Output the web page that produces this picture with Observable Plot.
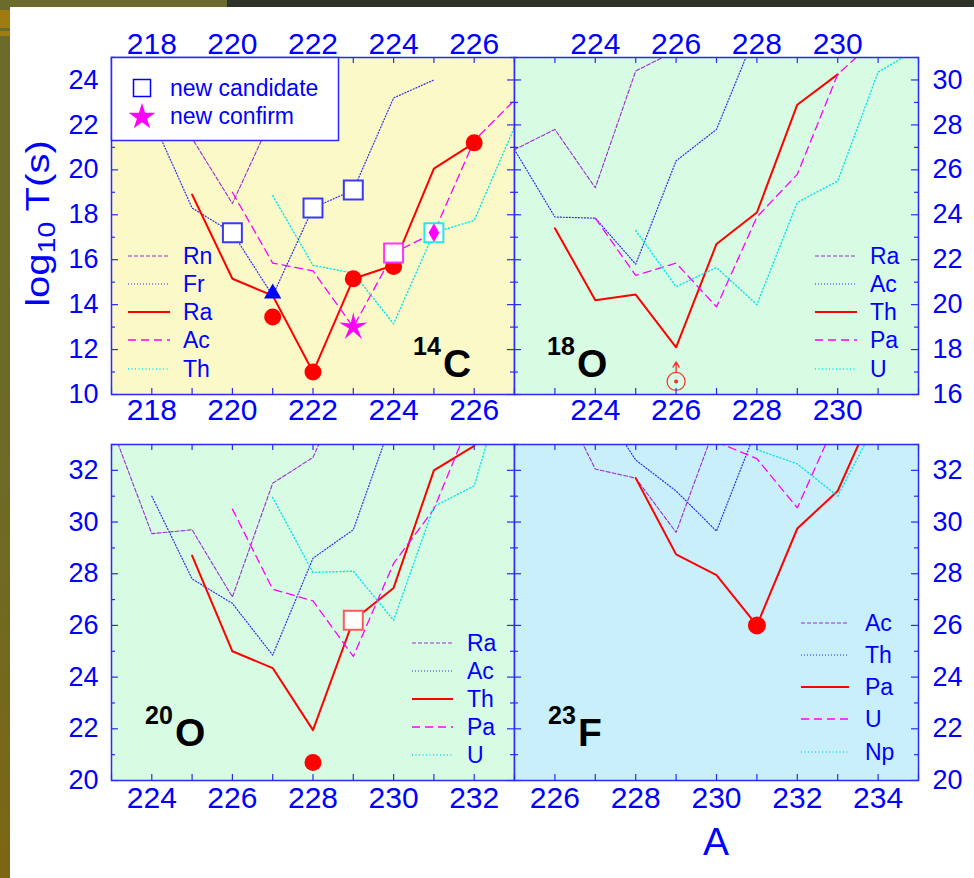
<!DOCTYPE html>
<html><head><meta charset="utf-8">
<script src="https://cdn.jsdelivr.net/npm/d3@7"></script>
<script src="https://cdn.jsdelivr.net/npm/@observablehq/plot@0.6"></script>
<style>
html,body{margin:0;padding:0;background:#fff;}
#root{position:relative;width:974px;height:878px;overflow:hidden;background:#fff;font-family:"Liberation Sans",Arial,sans-serif;}
.deco{position:absolute;}
</style></head><body><div id="root">
<div class="deco" style="left:0;top:0;width:10px;height:878px;background:linear-gradient(#6a6b2c,#6e6a26 60%,#7c6614);"></div>
<div class="deco" style="left:0;top:10px;width:10px;height:18px;background:#a07c10;"></div>
<div class="deco" style="left:0;top:31px;width:10px;height:5px;background:#a07c10;"></div>
<div class="deco" style="left:0;top:0;width:227px;height:7px;background:#6a6b2c;"></div>
<div class="deco" style="left:227px;top:0;width:747px;height:7px;background:#2f3229;"></div>
</div>
<script>
// ---------------- DATA ----------------
// Panel 1: 14C emission (x: A of parent, y: log10 T(s))
const C14_LABELS = ["Rn", "Fr", "Ra", "Ac", "Th"];
const C14_RN_A = [218, 219, 220, 221, 222];
const C14_RN_T = [24.5, 21.4, 18.5, 22.4, 26.0];
const C14_FR_A = [218, 219, 220, 221, 222, 223, 224, 225];
const C14_FR_T = [22.3, 18.3, 17.2, 14.4, 18.3, 19.1, 23.2, 24.0];
const C14_RA_A = [219, 220, 221, 222, 223, 224, 225, 226];
const C14_RA_T = [18.9, 15.15, 14.4, 11.0, 15.15, 15.75, 20.05, 21.2];
const C14_AC_A = [220, 221, 222, 223, 224, 225, 226, 227];
const C14_AC_T = [19.0, 15.85, 15.5, 13.0, 16.3, 17.2, 21.3, 23.1];
const C14_TH_A = [221, 222, 223, 224, 225, 226, 227];
const C14_TH_T = [18.85, 15.75, 15.4, 13.15, 17.2, 17.75, 21.9];
const C14_EXP_A = [221, 222, 223, 224, 226];
const C14_EXP_T = [13.45, 11.0, 15.15, 15.7, 21.2];
const C14_CAND_FR_A = [220, 222, 223];
const C14_CAND_FR_T = [17.2, 18.3, 19.1];
const C14_CAND_AC_A = [224];
const C14_CAND_AC_T = [16.3];
const C14_CAND_TH_A = [225];
const C14_CAND_TH_T = [17.2];
const C14_DIAMOND_A = [225];
const C14_DIAMOND_T = [17.2];
const C14_CONFIRM_A = [223];
const C14_CONFIRM_T = [13.0];
const C14_TRIANGLE_A = [221];
const C14_TRIANGLE_T = [14.5];
const P1_XLABELS = [218, 220, 222, 224, 226];
const P1_YLABELS = [10, 12, 14, 16, 18, 20, 22, 24];

// Panel 2: 18O
const O18_LABELS = ["Ra", "Ac", "Th", "Pa", "U"];
const O18_RA_A = [222, 223, 224, 225, 226];
const O18_RA_T = [26.9, 27.8, 25.2, 30.4, 31.3];
const O18_AC_A = [222, 223, 224, 225, 226, 227, 228];
const O18_AC_T = [26.9, 23.9, 23.85, 21.8, 26.4, 27.8, 32.2];
const O18_TH_A = [223, 224, 225, 226, 227, 228, 229, 230];
const O18_TH_T = [23.4, 20.2, 20.45, 18.1, 22.7, 24.1, 28.9, 30.25];
const O18_PA_A = [224, 225, 226, 227, 228, 229, 230, 231];
const O18_PA_T = [23.85, 21.3, 21.85, 19.9, 23.9, 25.8, 30.25, 31.9];
const O18_U_A = [225, 226, 227, 228, 229, 230, 231, 232];
const O18_U_T = [23.3, 20.8, 21.65, 20.0, 24.55, 25.5, 30.35, 31.4];
const O18_LIMIT_A = [226];
const O18_LIMIT_T = [16.58];
const O18_LIMIT_TIP = [17.45];
const P2_XLABELS = [224, 226, 228, 230];
const P2_YLABELS = [16, 18, 20, 22, 24, 26, 28, 30];

// Panel 3: 20O
const O20_LABELS = ["Ra", "Ac", "Th", "Pa", "U"];
const O20_RA_A = [223, 224, 225, 226, 227, 228, 229];
const O20_RA_T = [33.7, 29.55, 29.7, 27.1, 31.5, 32.5, 36.0];
const O20_AC_A = [224, 225, 226, 227, 228, 229, 230];
const O20_AC_T = [31.0, 27.8, 26.85, 24.85, 28.6, 29.7, 34.1];
const O20_TH_A = [225, 226, 227, 228, 229, 230, 231, 232];
const O20_TH_T = [28.7, 25.0, 24.35, 21.95, 26.2, 27.45, 32.0, 32.95];
const O20_PA_A = [226, 227, 228, 229, 230, 231, 232];
const O20_PA_T = [30.5, 27.4, 26.95, 24.8, 28.4, 30.5, 34.3];
const O20_U_A = [227, 228, 229, 230, 231, 232, 233];
const O20_U_T = [30.95, 28.05, 28.1, 26.2, 30.6, 31.4, 36.7];
const O20_EXP_A = [228];
const O20_EXP_T = [20.7];
const O20_CAND_A = [229];
const O20_CAND_T = [26.2];
const P3_XLABELS = [224, 226, 228, 230, 232];
const P3_YLABELS = [20, 22, 24, 26, 28, 30, 32];

// Panel 4: 23F
const F23_LABELS = ["Ac", "Th", "Pa", "U", "Np"];
const F23_AC_A = [226, 227, 228, 229, 230];
const F23_AC_T = [35.2, 32.05, 31.7, 29.6, 33.85];
const F23_TH_A = [227, 228, 229, 230, 231];
const F23_TH_T = [34.8, 32.4, 31.2, 29.65, 33.65];
const F23_PA_A = [228, 229, 230, 231, 232, 233, 234];
const F23_PA_T = [31.7, 28.75, 27.95, 26.0, 29.75, 31.2, 34.7];
const F23_U_A = [230, 231, 232, 233];
const F23_U_T = [33.1, 32.45, 30.55, 34.05];
const F23_NP_A = [231, 232, 233, 234];
const F23_NP_T = [32.8, 32.25, 31.0, 34.0];
const F23_EXP_A = [231];
const F23_EXP_T = [26.0];
const P4_XLABELS = [226, 228, 230, 232, 234];
const P4_YLABELS = [20, 22, 24, 26, 28, 30, 32];

// ---------------- STYLE ----------------
const BLUE = "#0000ff";
const FRAME = "#2a2aff";
const RED = "#ff0000";
const FONT = "'Liberation Sans', Arial, sans-serif";
const STYLES = [
  {stroke: "#9a2fd0", width: 1.1, dash: "4,2"},
  {stroke: "#2a2af0", width: 1.2, dash: "1,2"},
  {stroke: "#ff0000", width: 2, dash: null},
  {stroke: "#ff00ff", width: 1.3, dash: "8,5"},
  {stroke: "#00e4f0", width: 1.4, dash: "1,2.5"}
];

function rows(A, T) { return A.map((a, i) => ({A: a, T: T[i]})); }

const root = document.getElementById("root");

// thin five-pointed star like the reference "new confirm" marker
const thinStar = {
  draw(context, size) {
    const R = Math.sqrt(size * 1.1), r = R * 0.3;
    for (let i = 0; i < 10; ++i) {
      const a = -Math.PI / 2 + i * Math.PI / 5, rad = i % 2 ? r : R;
      const x = rad * Math.cos(a), y = rad * Math.sin(a);
      if (i === 0) context.moveTo(x, y); else context.lineTo(x, y);
    }
    context.closePath();
  }
};

function buildPanel(cfg) {
  const {xDomain, yDomain, bg, series, width, height, ml, mr, mt, mb} = cfg;
  const ih = height - mt - mb, iw = width - ml - mr;
  const xs = d3.range(Math.ceil(xDomain[0]), Math.floor(xDomain[1]) + 1);
  const ys = d3.range(Math.ceil(yDomain[0]), Math.floor(yDomain[1]) + 1);
  const yMajor = ys.filter(v => v % 2 === 0), yMinor = ys.filter(v => v % 2 !== 0);
  const marks = [Plot.frame({fill: bg, stroke: null})];
  series.forEach((s, i) => {
    const st = STYLES[i];
    marks.push(Plot.line(rows(s[0], s[1]), {
      x: "A", y: "T", stroke: st.stroke, strokeWidth: st.width,
      strokeDasharray: st.dash || undefined, clip: true
    }));
  });
  marks.push(...cfg.extras);
  marks.push(Plot.tickX(xs, {x: d => d, insetTop: ih - 6, stroke: FRAME, strokeWidth: 1.2}));
  marks.push(Plot.tickX(xs, {x: d => d, insetBottom: ih - 6, stroke: FRAME, strokeWidth: 1.2}));
  marks.push(Plot.tickY(yMajor, {y: d => d, insetRight: iw - 7, stroke: FRAME, strokeWidth: 1.2}));
  marks.push(Plot.tickY(yMinor, {y: d => d, insetRight: iw - 4, stroke: FRAME, strokeWidth: 1.2}));
  marks.push(Plot.tickY(yMajor, {y: d => d, insetLeft: iw - 7, stroke: FRAME, strokeWidth: 1.2}));
  marks.push(Plot.tickY(yMinor, {y: d => d, insetLeft: iw - 4, stroke: FRAME, strokeWidth: 1.2}));
  if (cfg.xTop) marks.push(Plot.text(cfg.xTop, {x: d => d, text: d => String(d), frameAnchor: "top", dy: -25, fontSize: 30, fill: BLUE}));
  if (cfg.xBottom) marks.push(Plot.text(cfg.xBottom, {x: d => d, text: d => String(d), frameAnchor: "bottom", dy: cfg.xBottomDy, fontSize: 30, fill: BLUE}));
  if (cfg.yLeft) marks.push(Plot.text(cfg.yLeft, {y: d => d, text: d => String(d), frameAnchor: "left", textAnchor: "end", dx: -13, fontSize: 27, fill: BLUE}));
  if (cfg.yRight) marks.push(Plot.text(cfg.yRight, {y: d => d, text: d => String(d), frameAnchor: "right", textAnchor: "start", dx: 14, fontSize: 27, fill: BLUE}));
  marks.push(Plot.frame({stroke: FRAME, strokeWidth: 1.5}));
  const svg = Plot.plot({
    width, height, marginLeft: ml, marginRight: mr, marginTop: mt, marginBottom: mb,
    x: {domain: xDomain, axis: null},
    y: {domain: yDomain, axis: null},
    style: {background: "transparent", overflow: "visible", fontFamily: FONT},
    marks
  });
  svg.style.position = "absolute";
  svg.style.left = cfg.left + "px";
  svg.style.top = cfg.top + "px";
  svg.style.maxWidth = "none";
  root.appendChild(svg);
}

const candStyle = (stroke) => ({x: "A", y: "T", symbol: "square", r: 10.7, fill: "white", stroke, strokeWidth: 2});

// Panel 1
buildPanel({
  left: 0, top: 0, width: 514, height: 432, ml: 111, mr: 0, mt: 57, mb: 38,
  xDomain: [217, 227], yDomain: [10, 25], bg: "#fcf9c9",
  series: [[C14_RN_A, C14_RN_T], [C14_FR_A, C14_FR_T], [C14_RA_A, C14_RA_T], [C14_AC_A, C14_AC_T], [C14_TH_A, C14_TH_T]],
  extras: [
    Plot.dot(rows(C14_EXP_A, C14_EXP_T), {x: "A", y: "T", r: 8.5, fill: RED}),
    Plot.dot(rows(C14_CAND_FR_A, C14_CAND_FR_T), candStyle("#3a3af5")),
    Plot.dot(rows(C14_CAND_AC_A, C14_CAND_AC_T), candStyle("#ff33ff")),
    Plot.dot(rows(C14_CAND_TH_A, C14_CAND_TH_T), candStyle("#22e8f0")),
    Plot.dot(rows(C14_DIAMOND_A, C14_DIAMOND_T), {x: "A", y: "T", symbol: "diamond", r: 5.6, fill: "#ff00ff"}),
    Plot.dot(rows(C14_CONFIRM_A, C14_CONFIRM_T), {x: "A", y: "T", symbol: thinStar, r: 8, fill: "#ff00ff"}),
    Plot.dot(rows(C14_TRIANGLE_A, C14_TRIANGLE_T), {x: "A", y: "T", symbol: "triangle", r: 6.4, fill: BLUE})
  ],
  xTop: P1_XLABELS, xBottom: P1_XLABELS, xBottomDy: 25, yLeft: P1_YLABELS
});

// Panel 2
buildPanel({
  left: 514, top: 0, width: 460, height: 432, ml: 0, mr: 56, mt: 57, mb: 38,
  xDomain: [222, 232], yDomain: [16, 31], bg: "#d7fbe3",
  series: [[O18_RA_A, O18_RA_T], [O18_AC_A, O18_AC_T], [O18_TH_A, O18_TH_T], [O18_PA_A, O18_PA_T], [O18_U_A, O18_U_T]],
  extras: [
    Plot.dot(rows(O18_LIMIT_A, O18_LIMIT_T), {x: "A", y: "T", r: 9, fill: "none", stroke: "#ff2a2a", strokeWidth: 1.2}),
    Plot.dot(rows(O18_LIMIT_A, O18_LIMIT_T), {x: "A", y: "T", r: 2, fill: "#ff2a2a"}),
    Plot.arrow(O18_LIMIT_A.map((a, i) => ({A: a, T: O18_LIMIT_T[i], tip: O18_LIMIT_TIP[i]})),
      {x1: "A", x2: "A", y1: "T", y2: "tip", insetStart: 9, stroke: "#ff2a2a", strokeWidth: 1.3, headLength: 7})
  ],
  xTop: P2_XLABELS, xBottom: P2_XLABELS, xBottomDy: 25, yRight: P2_YLABELS
});

// Panel 3
buildPanel({
  left: 0, top: 432, width: 514, height: 446, ml: 111, mr: 0, mt: 12, mb: 98,
  xDomain: [223, 233], yDomain: [20, 33], bg: "#d7fbe3",
  series: [[O20_RA_A, O20_RA_T], [O20_AC_A, O20_AC_T], [O20_TH_A, O20_TH_T], [O20_PA_A, O20_PA_T], [O20_U_A, O20_U_T]],
  extras: [
    Plot.dot(rows(O20_EXP_A, O20_EXP_T), {x: "A", y: "T", r: 8.5, fill: RED}),
    Plot.dot(rows(O20_CAND_A, O20_CAND_T), candStyle("#ff5a5a"))
  ],
  xBottom: P3_XLABELS, xBottomDy: 27, yLeft: P3_YLABELS
});

// Panel 4
buildPanel({
  left: 514, top: 432, width: 460, height: 446, ml: 0, mr: 56, mt: 12, mb: 98,
  xDomain: [225, 235], yDomain: [20, 33], bg: "#c9effb",
  series: [[F23_AC_A, F23_AC_T], [F23_TH_A, F23_TH_T], [F23_PA_A, F23_PA_T], [F23_U_A, F23_U_T], [F23_NP_A, F23_NP_T]],
  extras: [
    Plot.dot(rows(F23_EXP_A, F23_EXP_T), {x: "A", y: "T", r: 9, fill: RED})
  ],
  xBottom: P4_XLABELS, xBottomDy: 27, yRight: P4_YLABELS
});

// ---------------- OVERLAY: legends, labels, titles ----------------
const ov = d3.select(root).append("svg")
  .attr("width", 974).attr("height", 878)
  .style("position", "absolute").style("left", "0px").style("top", "0px")
  .style("pointer-events", "none").style("font-family", FONT);

// Candidate / confirm legend box (panel 1)
ov.append("rect").attr("x", 111.5).attr("y", 57.5).attr("width", 227).attr("height", 83)
  .attr("fill", "white").attr("stroke", FRAME).attr("stroke-width", 1.5);
ov.append("rect").attr("x", 133.5).attr("y", 79.5).attr("width", 17).attr("height", 17)
  .attr("fill", "white").attr("stroke", BLUE).attr("stroke-width", 1.5);
ov.append("path").attr("d", d3.symbol(d3.symbolStar, 220)()).attr("transform", "translate(142,117)").attr("fill", "#ff00ff");
ov.append("text").attr("x", 170).attr("y", 96).attr("font-size", 23).attr("fill", BLUE).text("new candidate");
ov.append("text").attr("x", 170).attr("y", 124).attr("font-size", 23).attr("fill", BLUE).text("new confirm");

function seriesLegend(labels, x1, x2, tx, rowsY) {
  labels.forEach((lab, i) => {
    const st = STYLES[i];
    ov.append("line").attr("x1", x1).attr("x2", x2).attr("y1", rowsY[i]).attr("y2", rowsY[i])
      .attr("stroke", st.stroke).attr("stroke-width", st.width)
      .attr("stroke-dasharray", st.dash);
    ov.append("text").attr("x", tx).attr("y", rowsY[i] + 8).attr("font-size", 23).attr("fill", BLUE).text(lab);
  });
}
seriesLegend(C14_LABELS, 128, 170, 183, [256, 284, 312, 340, 369]);
seriesLegend(O18_LABELS, 815, 857, 870, [256, 284, 312, 340, 369]);
seriesLegend(O20_LABELS, 412, 453, 467, [643, 671, 699, 727, 755]);
seriesLegend(F23_LABELS, 801, 849, 865, [623, 655, 687, 719, 752]);

function nucleus(mass, sym, x, y) {
  const t = ov.append("text").attr("font-weight", "bold").attr("fill", "black");
  t.append("tspan").attr("x", x).attr("y", y - 22).attr("font-size", 25).text(mass);
  t.append("tspan").attr("x", x + 30).attr("y", y).attr("font-size", 39).text(sym);
}
nucleus("14", "C", 413, 377);
nucleus("18", "O", 547, 377);
nucleus("20", "O", 145, 746);
nucleus("23", "F", 548, 746);

// Axis titles
const yt = ov.append("text").attr("transform", "translate(49,223.5) rotate(-90) scale(1.18,1)")
  .attr("text-anchor", "middle").attr("font-size", 34).attr("fill", BLUE);
yt.append("tspan").text("log");
yt.append("tspan").attr("font-size", 24).attr("dy", 6).text("10");
yt.append("tspan").attr("dy", -6).text(" T(s)");
ov.append("text").attr("x", 716).attr("y", 855).attr("text-anchor", "middle")
  .attr("font-size", 39).attr("fill", BLUE).text("A");
</script>
</body></html>
